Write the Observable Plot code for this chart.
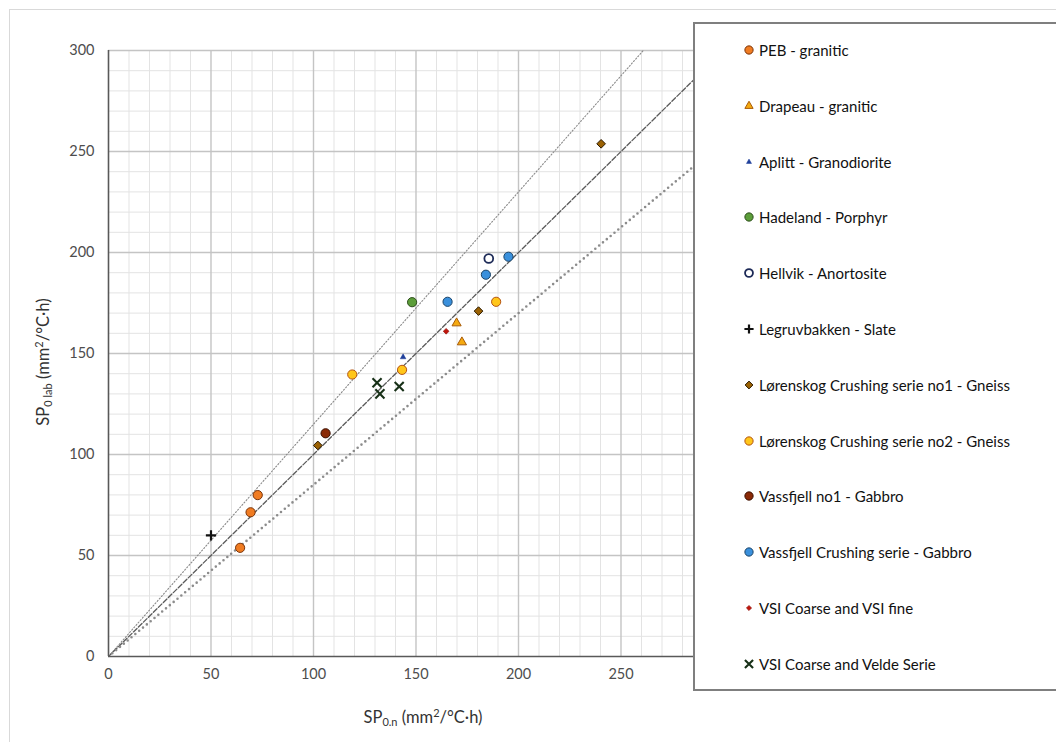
<!DOCTYPE html>
<html><head><meta charset="utf-8">
<script src="https://cdn.jsdelivr.net/npm/d3@7"></script>
<script src="https://cdn.jsdelivr.net/npm/@observablehq/plot@0.6"></script>
<style>
body{margin:0;background:#fff;font-family:Lato,"Open Sans",sans-serif;}
#wrap{position:relative;width:1056px;height:742px;overflow:hidden;background:#fff;}
#frame{position:absolute;left:9px;top:9px;width:1100px;height:800px;border-left:1px solid #d9d9d9;border-top:1px solid #d9d9d9;}
#chart{position:absolute;left:0;top:0;}
#legend{position:absolute;left:693px;top:22px;width:420px;height:665px;border:2px solid #7f7f7f;background:#fff;}
.item{position:absolute;left:47px;height:20px;display:flex;align-items:center;font-size:15px;color:#111;white-space:nowrap;}
.item svg{margin-right:3px;}
.atitle{position:absolute;font-size:16.5px;color:#333;white-space:nowrap;}
.atitle sub{font-size:11px;vertical-align:-3px;}
.atitle sup{font-size:11px;vertical-align:6px;}
</style></head>
<body><div id="wrap"><div id="frame"></div><div id="chart"></div><div id="legend"></div>
<div class="atitle" id="xt">SP<sub>0.n</sub> (mm<sup>2</sup>/°C·h)</div>
<div class="atitle" id="yt">SP<sub>0 lab</sub> (mm<sup>2</sup>/°C·h)</div>
</div>
<script>
// ---- data ----
const xTicks = [0, 50, 100, 150, 200, 250, 300];
const yTicks = [0, 50, 100, 150, 200, 250, 300];
const refSlopes = [1.15, 1.0, 0.85];

const pebGranitic = [[72.8, 79.9], [69.3, 71.4], [64.2, 53.8]];
const drapeauGranitic = [[169.8, 165.0], [172.4, 155.6]];
const aplittGranodiorite = [[143.7, 148.2]];
const hadelandPorphyr = [[148.1, 175.4]];
const hellvikAnortosite = [[185.5, 197.0]];
const legruvbakkenSlate = [[50.0, 60.0]];
const lorenskog1Gneiss = [[102.1, 104.5], [180.5, 171.0], [240.3, 253.8]];
const lorenskog2Gneiss = [[118.9, 139.6], [143.2, 141.9], [189.1, 175.6]];
const vassfjell1Gabbro = [[105.9, 110.5]];
const vassfjellCrushGabbro = [[165.4, 175.6], [184.1, 189.0], [195.1, 197.9]];
const vsiCoarseFine = [[164.7, 161.0]];
const vsiCoarseVelde = [[131.0, 135.5], [132.4, 130.0], [141.8, 133.7]];

const seriesNames = [
  "PEB - granitic", "Drapeau - granitic", "Aplitt - Granodiorite", "Hadeland - Porphyr",
  "Hellvik - Anortosite", "Legruvbakken - Slate", "Lørenskog Crushing serie no1 - Gneiss",
  "Lørenskog Crushing serie no2 - Gneiss", "Vassfjell no1 - Gabbro", "Vassfjell Crushing serie - Gabbro",
  "VSI Coarse and VSI fine", "VSI Coarse and Velde Serie"
];
const seriesData = [pebGranitic, drapeauGranitic, aplittGranodiorite, hadelandPorphyr, hellvikAnortosite,
  legruvbakkenSlate, lorenskog1Gneiss, lorenskog2Gneiss, vassfjell1Gabbro, vassfjellCrushGabbro, vsiCoarseFine, vsiCoarseVelde];

// ---- styles ----
const styles = [
  {symbol:"circle", fill:"#f07c22", stroke:"#7a3308", r:4.6, sw:1},
  {symbol:"triangle", fill:"#f5aa10", stroke:"#a85a06", r:3.4, sw:1},
  {symbol:"triangle", fill:"#1f3f9a", stroke:"#1f3f9a", r:2.1, sw:0.5},
  {symbol:"circle", fill:"#5c9e3a", stroke:"#2d4d1c", r:4.6, sw:1},
  {symbol:"circle", fill:"#ffffff", stroke:"#1d2a57", r:4.4, sw:1.8},
  {symbol:"plus", fill:"none", stroke:"#111", r:3.4, sw:2.2},
  {symbol:"diamond2", fill:"#9b6204", stroke:"#2b1a00", r:3.9, sw:1},
  {symbol:"circle", fill:"#ffc61a", stroke:"#b45310", r:4.6, sw:1},
  {symbol:"circle", fill:"#8a2a06", stroke:"#3b0f00", r:4.6, sw:1},
  {symbol:"circle", fill:"#3a90dc", stroke:"#1c4468", r:4.6, sw:1},
  {symbol:"diamond2", fill:"#c0160c", stroke:"#8a0a05", r:2.6, sw:0.6},
  {symbol:"times", fill:"none", stroke:"#173017", r:4.2, sw:2.1}
];

const minor = d3.range(0, 301, 10).filter(v => v % 50 !== 0);
const refLines = refSlopes.map(k => [{x:0, y:0}, {x:300, y:300 * k}]);

const marks = [
  Plot.ruleX(minor, {stroke:"#e3e3e3", strokeWidth:1}),
  Plot.ruleY(minor, {stroke:"#e3e3e3", strokeWidth:1}),
  Plot.ruleX(xTicks.filter(v => v > 0), {stroke:"#c4c4c4", strokeWidth:1.4}),
  Plot.ruleY(yTicks.filter(v => v > 0), {stroke:"#c4c4c4", strokeWidth:1.4}),
  Plot.line(refLines[0], {x:"x", y:"y", stroke:"#8a8a8a", strokeWidth:1.1, strokeDasharray:"1.2,2", clip:true}),
  Plot.line(refLines[1], {x:"x", y:"y", stroke:"#5a5a5a", strokeWidth:1.3, strokeDasharray:"5,2", clip:true}),
  Plot.line(refLines[2], {x:"x", y:"y", stroke:"#8c8c8c", strokeWidth:2.6, strokeDasharray:"0,5", strokeLinecap:"round", clip:true}),
  Plot.ruleX([0], {stroke:"#595959", strokeWidth:1.6}),
  Plot.ruleY([0], {stroke:"#595959", strokeWidth:1.6}),
  Plot.axisX({ticks:xTicks, tickSize:0, tickPadding:12, fontSize:14.5, fill:"#4d4d4d", label:null}),
  Plot.axisY({ticks:yTicks, tickSize:0, tickPadding:14, fontSize:14.5, fill:"#4d4d4d", label:null})
];
seriesData.forEach((pts, i) => {
  const s = styles[i];
  marks.push(Plot.dot(pts, {x:d => d[0], y:d => d[1], symbol:() => s.symbol, r:s.r, fill:s.fill, stroke:s.stroke, strokeWidth:s.sw}));
});

const chart = Plot.plot({
  width:1056, height:742,
  marginLeft:108, marginRight:333, marginTop:50, marginBottom:86,
  x:{domain:[0, 300]},
  y:{domain:[0, 300]},
  symbol:{type:"identity"},
  style:{fontFamily:"Lato, sans-serif", fontSize:"14px", background:"transparent"},
  marks
});
document.getElementById("chart").appendChild(chart);

// ---- legend ----
const d3sym = {circle:d3.symbolCircle, triangle:d3.symbolTriangle, diamond2:d3.symbolDiamond2, plus:d3.symbolPlus, times:d3.symbolTimes};
const legend = document.getElementById("legend");
seriesNames.forEach((name, i) => {
  const s = styles[i];
  const div = document.createElement("div");
  div.className = "item";
  div.style.top = (26 + i * 55.8 - 10) + "px";
  const size = Math.PI * (s.r * 0.9) ** 2;
  const path = d3.symbol(d3sym[s.symbol], size)();
  div.innerHTML = `<svg width="14" height="14" viewBox="-7 -7 14 14"><path d="${path}" fill="${s.fill}" stroke="${s.stroke}" stroke-width="${s.sw}"/></svg><span>${name}</span>`;
  legend.appendChild(div);
});

// ---- axis titles ----
const xt = document.getElementById("xt");
const yt = document.getElementById("yt");
xt.style.left = (423 - xt.offsetWidth / 2) + "px";
xt.style.top = (717 - xt.offsetHeight / 2) + "px";
yt.style.left = (42 - yt.offsetWidth / 2) + "px";
yt.style.top = (362 - yt.offsetHeight / 2) + "px";
yt.style.transform = "rotate(-90deg)";
</script></body></html>
